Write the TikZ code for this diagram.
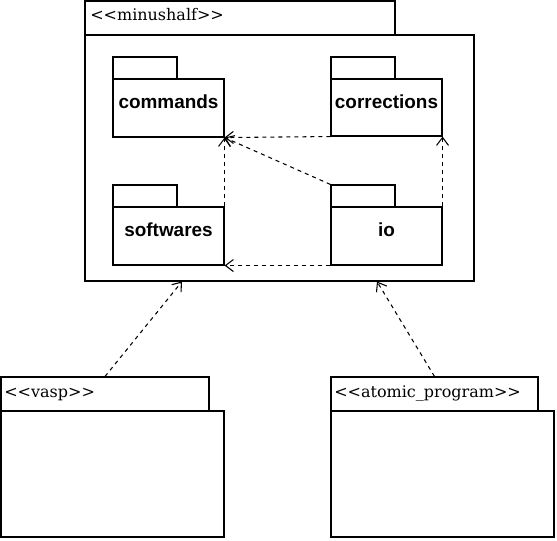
\documentclass[tikz,border=0pt]{standalone}
\usepackage{fontspec}
\newfontfamily\stereofont{DejaVu Serif}
\newfontfamily\labelfont{Liberation Sans}
\usetikzlibrary{arrows.meta,fit,calc}
\begin{document}
\begin{tikzpicture}[x=0.75pt,y=-0.75pt,
  pkg/.style={draw, line width=0.8pt, inner sep=0pt, fill=white},
  stereo/.style={anchor=base west, inner sep=0pt, font=\stereofont\fontsize{12}{14}\selectfont},
  pkglabel/.style={anchor=base, inner sep=0pt, font=\labelfont\bfseries\fontsize{14.2}{16}\selectfont},
  dep/.style={draw, line width=0.8pt, dash pattern=on 3pt off 3pt, -{Straight Barb[length=6pt,width=9pt]}}]
\useasboundingbox (0,0) rectangle (557,540);
% outer package minushalf
\node[pkg, fit={(85,1) (395,35)}] (mhtab) {};
\node[pkg, fit={(85,35) (474,281)}] (mh) {};
\node[stereo] (mhlabel) at (90,20) {<<minushalf>>};
% commands
\node[pkg, fit={(113,57) (177,79)}] (cmdtab) {};
\node[pkg, fit={(113,79) (224,137)}] (cmd) {};
\node[pkglabel] (cmdlabel) at (168.5,108) {commands};
% corrections
\node[pkg, fit={(331,57) (395,79)}] (corrtab) {};
\node[pkg, fit={(331,79) (442,136)}] (corr) {};
\node[pkglabel] (corrlabel) at (386.5,108) {corrections};
% softwares
\node[pkg, fit={(113,185) (177,207)}] (swtab) {};
\node[pkg, fit={(113,207) (224,265)}] (sw) {};
\node[pkglabel] (swlabel) at (168.5,236) {softwares};
% io
\node[pkg, fit={(331,185) (395,207)}] (iotab) {};
\node[pkg, fit={(331,207) (442,265)}] (io) {};
\node[pkglabel] (iolabel) at (386.5,236) {io};
% vasp
\node[pkg, fit={(1,377) (209,411)}] (vasptab) {};
\node[pkg, fit={(1,411) (224,537)}] (vasp) {};
\node[stereo] (vasplabel) at (4,397) {<<vasp>>};
% atomic_program
\node[pkg, fit={(331,377) (538,411)}] (atomtab) {};
\node[pkg, fit={(331,411) (554,537)}] (atom) {};
\node[stereo] (atomlabel) at (334,397) {<<atomic\_program>>};
% dependencies
\draw[dep] (corr.south west) -- (cmd.south east);
\draw[dep] (iotab.north west) -- (cmd.south east);
\draw[dep] (sw.north east) -- (cmd.south east);
\draw[dep] (io.south west) -- (sw.south east);
\draw[dep] (io.north east) -- (corr.south east);
\draw[dep] (vasptab.north) -- ($(mh.south west)!0.25!(mh.south east)$);
\draw[dep] (atomtab.north) -- ($(mh.south west)!0.75!(mh.south east)$);
\end{tikzpicture}
\end{document}
